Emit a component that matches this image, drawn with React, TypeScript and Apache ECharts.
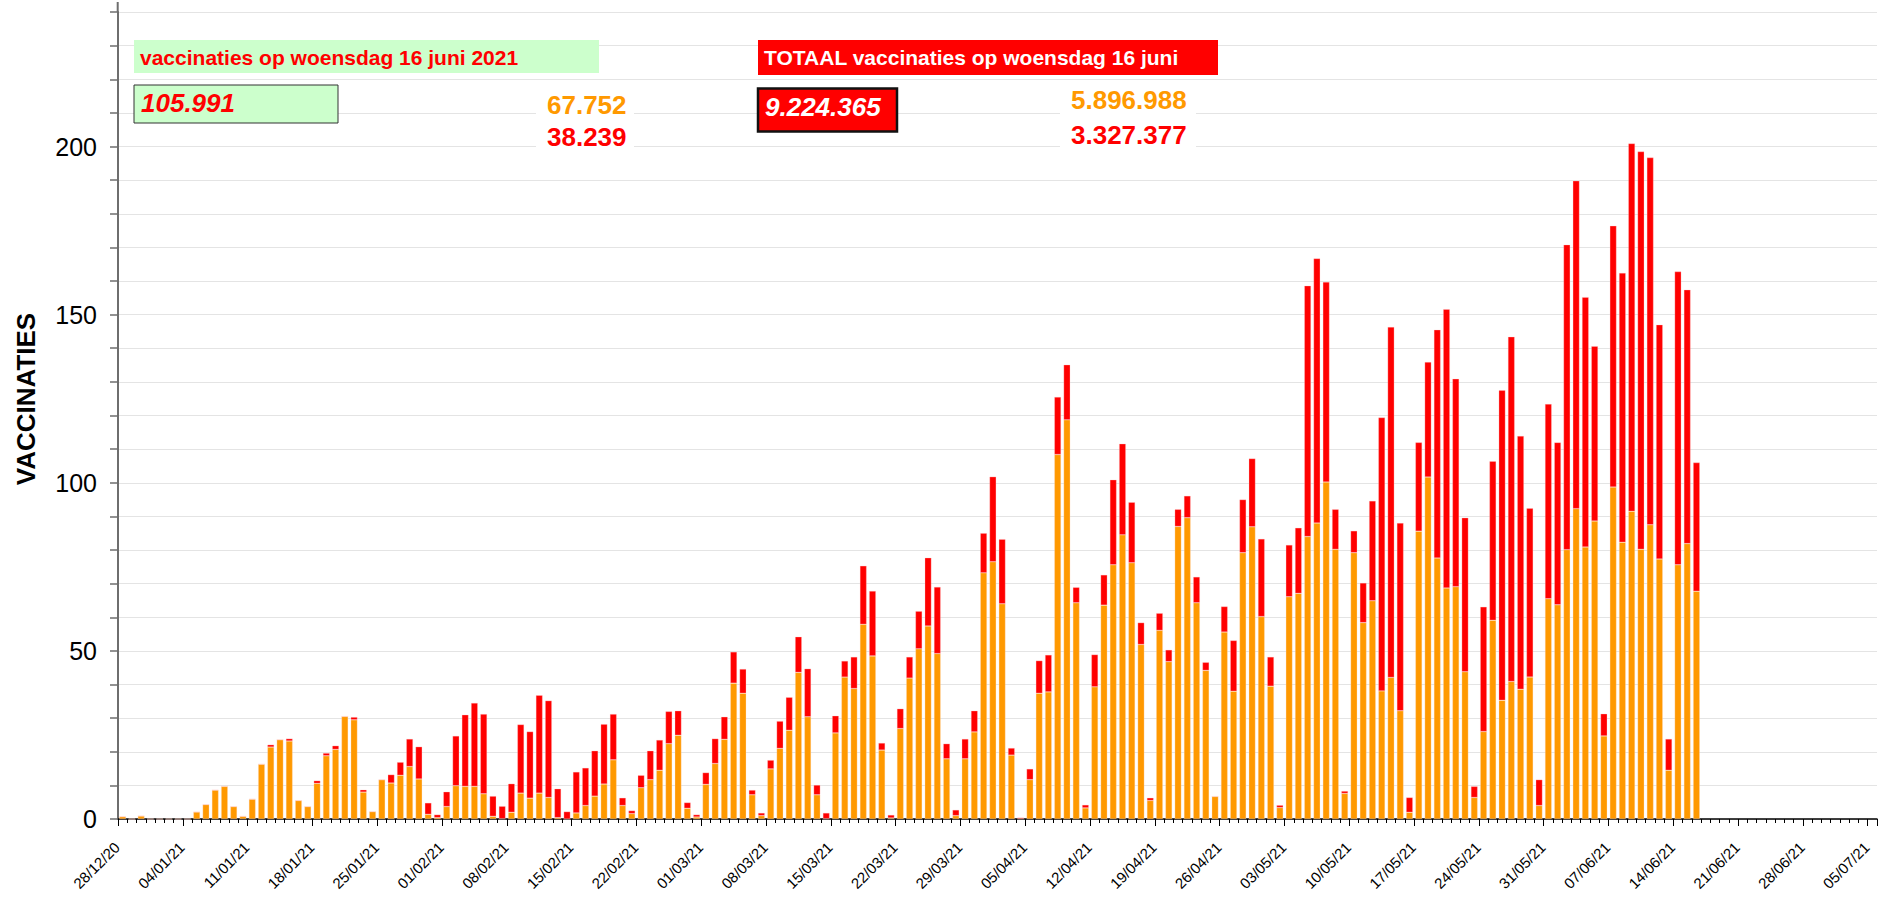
import React, { useEffect, useRef } from "react";
import * as echarts from "echarts";

// ---- data (in thousands of vaccinations per day) ----
const startDay = { year: 2020, month: 11, day: 28 }; // 28/12/2020
const dayCount = 190; // 28/12/20 .. 05/07/21

function buildDates(): string[] {
  const out: string[] = [];
  const base = Date.UTC(startDay.year, startDay.month, startDay.day);
  for (let i = 0; i < dayCount; i++) {
    const d = new Date(base + i * 86400000);
    const dd = String(d.getUTCDate()).padStart(2, "0");
    const mm = String(d.getUTCMonth() + 1).padStart(2, "0");
    const yy = String(d.getUTCFullYear()).slice(2);
    out.push(`${dd}/${mm}/${yy}`);
  }
  return out;
}
const categories = buildDates();

// first dose (orange)
const eersteDosis = [
  0.7, 0, 0.9, 0, 0, 0, 0, 0, 2.1, 4.3, 8.6, 9.7, 3.7, 0.8,
  5.9, 16.3, 21.4, 23.6, 23.2, 5.5, 3.7, 10.6, 18.8, 20.7, 30.5, 29.5, 8.0, 2.2,
  11.7, 10.7, 13.0, 15.6, 11.9, 1.4, 0.4, 3.7, 9.9, 9.7, 9.7, 7.5, 0.8, 0.1,
  2.0, 7.7, 6.2, 7.7, 6.4, 0.4, 0, 1.8, 4.0, 6.8, 10.4, 17.6, 4.0, 1.6,
  9.3, 11.7, 14.5, 22.4, 24.9, 3.2, 0.6, 10.3, 16.5, 23.7, 40.4, 37.4, 7.2, 1.0,
  14.9, 21.0, 26.4, 43.6, 30.4, 7.2, 0.1, 25.6, 42.2, 38.8, 57.9, 48.5, 20.5, 0.3,
  26.9, 41.9, 50.6, 57.4, 49.2, 17.9, 1.0, 17.9, 25.9, 73.2, 76.5, 64.0, 19.0, 0.1,
  11.7, 37.4, 37.8, 108.4, 118.7, 64.3, 3.3, 39.3, 63.6, 75.6, 84.5, 76.2, 51.9, 5.5,
  56.1, 46.8, 87.0, 89.6, 64.3, 44.2, 6.7, 55.6, 38.0, 79.2, 86.9, 60.2, 39.5, 3.4,
  66.1, 67.1, 84.0, 88.0, 100.2, 80.2, 7.6, 79.2, 58.4, 64.9, 38.1, 42.1, 32.2, 2.0,
  85.6, 101.7, 77.6, 68.7, 69.1, 43.8, 6.4, 26.0, 59.1, 35.3, 40.9, 38.6, 42.2, 4.0,
  65.5, 63.7, 80.1, 92.3, 80.9, 88.6, 24.7, 98.7, 82.3, 91.5, 80.2, 87.5, 77.3, 14.5,
  75.6, 81.9, 67.752,
];

// second dose (red)
const tweedeDosis = [
  0, 0, 0, 0, 0, 0, 0, 0, 0, 0, 0, 0, 0, 0,
  0, 0, 0.7, 0, 0.7, 0, 0, 0.8, 0.8, 1.1, 0, 0.8, 0.7, 0,
  0, 2.5, 3.9, 8.2, 9.6, 3.4, 0.9, 4.4, 14.8, 21.3, 24.8, 23.7, 6.0, 3.7,
  8.5, 20.4, 19.8, 29.1, 28.8, 8.6, 2.2, 12.2, 11.2, 13.5, 17.8, 13.6, 2.3, 0.9,
  3.7, 8.6, 9.0, 9.6, 7.3, 1.7, 0.7, 3.5, 7.4, 6.7, 9.3, 7.2, 1.4, 0.8,
  2.6, 8.1, 9.8, 10.6, 14.3, 2.9, 1.7, 5.1, 4.8, 9.4, 17.4, 19.3, 2.1, 0.9,
  5.9, 6.3, 11.2, 20.3, 19.8, 4.5, 1.7, 5.9, 6.3, 11.8, 25.3, 19.2, 2.1, 0.3,
  3.2, 9.7, 11.0, 17.1, 16.4, 4.6, 0.9, 9.6, 9.0, 25.3, 27.1, 18.0, 6.5, 0.8,
  5.1, 3.5, 5.1, 6.5, 7.7, 2.4, 0, 7.6, 15.1, 15.8, 20.3, 23.1, 8.7, 0.7,
  15.4, 19.5, 74.6, 78.7, 59.5, 11.9, 0.7, 6.5, 11.8, 29.7, 81.3, 104.2, 55.8, 4.4,
  26.4, 34.2, 67.9, 82.9, 61.8, 45.8, 3.3, 37.1, 47.3, 92.2, 102.5, 75.3, 50.2, 7.7,
  57.9, 48.3, 90.7, 97.5, 74.3, 52.0, 6.6, 77.7, 80.1, 109.4, 118.3, 109.2, 69.7, 9.3,
  87.2, 75.5, 38.239,
];

const yLabelValues = [0, 50, 100, 150, 200];

const dagTitel = "vaccinaties op woensdag 16 juni 2021";
const dagTotaal = "105.991";
const dagEerste = "67.752";
const dagTweede = "38.239";
const totaalTitel = "TOTAAL vaccinaties op woensdag 16 juni";
const totaalAlles = "9.224.365";
const totaalEerste = "5.896.988";
const totaalTweede = "3.327.377";

const ORANGE = "#ff9900";
const RED = "#ff0000";
const FONT = "'Liberation Sans', Arial, Helvetica, sans-serif";

function pad(arr: number[]): (number | null)[] {
  const out: (number | null)[] = arr.slice();
  while (out.length < dayCount) out.push(null);
  return out;
}

function txt(x: number, y: number, text: string, fill: string, size: number, italic = false) {
  return {
    type: "text",
    x,
    y,
    z: 101,
    style: {
      text,
      fill,
      font: `${italic ? "italic " : ""}bold ${size}px ${FONT}`,
      align: "left",
      verticalAlign: "middle",
      textAlign: "left",
      textVerticalAlign: "middle",
    },
  };
}

function rect(x: number, y: number, w: number, h: number, fill: string, stroke?: string, lw = 0) {
  return {
    type: "rect",
    z: 100,
    shape: { x, y, width: w, height: h },
    style: stroke ? { fill, stroke, lineWidth: lw } : { fill },
  };
}

export default function App() {
  const ref = useRef<HTMLDivElement>(null);

  useEffect(() => {
    if (!ref.current) return;
    const chart = echarts.init(ref.current, undefined, { renderer: "svg" });
    const option: any = {
      animation: false,
      backgroundColor: "#ffffff",
      grid: { left: 118, right: 8, top: 12, bottom: 79, containLabel: false },
      xAxis: [
        {
          type: "category",
          data: categories,
          boundaryGap: true,
          position: "bottom",
          axisLine: { show: true, lineStyle: { color: "#000", width: 1.5 } },
          axisTick: { show: true, interval: 0, length: 4, lineStyle: { color: "#000", width: 1 } },
          axisLabel: { show: false },
          splitLine: { show: false },
        },
        {
          type: "category",
          data: categories,
          boundaryGap: true,
          position: "bottom",
          axisLine: { show: false },
          axisTick: { show: true, interval: 6, length: 7, lineStyle: { color: "#000", width: 1 } },
          axisLabel: {
            show: true,
            interval: 6,
            rotate: 45,
            margin: 20,
            padding: [0, 8, 0, 0],
            fontSize: 15,
            fontFamily: FONT,
            color: "#000",
          },
          splitLine: { show: false },
        },
      ],
      yAxis: {
        type: "value",
        min: 0,
        max: 240,
        interval: 10,
        axisLine: { show: true, lineStyle: { color: "#6e6e6e", width: 2 } },
        axisTick: { show: true, length: 8, inside: false, lineStyle: { color: "#6e6e6e", width: 1.5 } },
        axisLabel: {
          margin: 21,
          fontSize: 25,
          fontFamily: FONT,
          color: "#000",
          formatter: (v: number) => (yLabelValues.includes(v) ? String(v) : ""),
        },
        splitLine: { show: true, lineStyle: { color: "#e4e4e4", width: 1 } },
      },
      series: [
        {
          name: "eerste dosis",
          type: "bar",
          stack: "vacc",
          xAxisIndex: 0,
          data: pad(eersteDosis),
          barWidth: "72%",
          itemStyle: { color: ORANGE, borderColor: "rgba(255,220,200,0.6)", borderWidth: 0.5 },
        },
        {
          name: "tweede dosis",
          type: "bar",
          stack: "vacc",
          xAxisIndex: 0,
          data: pad(tweedeDosis),
          barWidth: "72%",
          itemStyle: { color: RED, borderColor: "rgba(255,200,200,0.6)", borderWidth: 0.5 },
        },
      ],
      graphic: [
        { type: "line", z: 100, shape: { x1: 117.7, y1: 2, x2: 117.7, y2: 12 }, style: { stroke: "#6e6e6e", lineWidth: 2 } },
        {
          type: "text",
          x: 26,
          y: 399,
          rotation: Math.PI / 2,
          z: 101,
          style: {
            text: "VACCINATIES",
            fill: "#000",
            font: `bold 26px ${FONT}`,
            align: "center",
            verticalAlign: "middle",
            textAlign: "center",
            textVerticalAlign: "middle",
          },
        },
        rect(134, 40, 465, 33, "#ccffcc"),
        txt(140, 57, dagTitel, RED, 21),
        rect(134, 85, 204, 38, "#ccffcc", "#333333", 1),
        txt(141, 103, dagTotaal, RED, 26, true),
        rect(536, 84, 98, 66, "#ffffff"),
        txt(547, 104.5, dagEerste, ORANGE, 26),
        txt(547, 137, dagTweede, RED, 26),
        rect(758, 40, 460, 35, RED),
        txt(764, 57.5, totaalTitel, "#ffffff", 21),
        rect(758, 88.5, 139, 43, RED, "#111111", 2.5),
        txt(765, 107, totaalAlles, "#ffffff", 26, true),
        rect(1060, 80, 136, 67, "#ffffff"),
        txt(1071, 100, totaalEerste, ORANGE, 26),
        txt(1071, 135, totaalTweede, RED, 26),
      ],
    };
    chart.setOption(option);
    return () => chart.dispose();
  }, []);

  return (
    <div
      ref={ref}
      style={{ position: "fixed", left: 0, top: 0, width: 1885, height: 898, background: "#fff" }}
    />
  );
}
